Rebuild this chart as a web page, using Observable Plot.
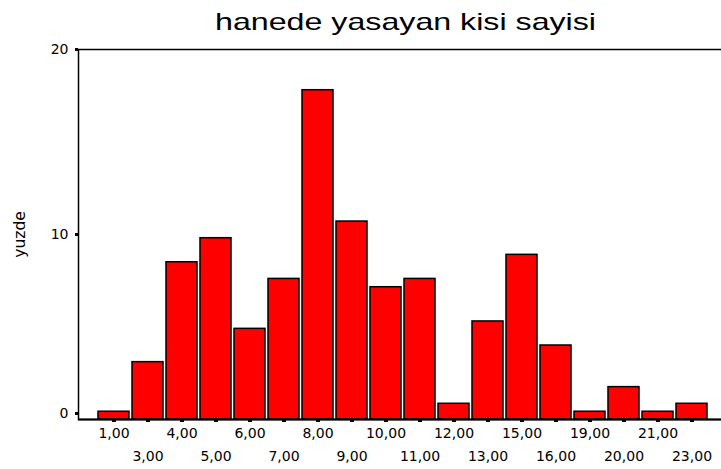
<!DOCTYPE html>
<html><head><meta charset="utf-8">
<script src="https://cdn.jsdelivr.net/npm/d3@7"></script>
<script src="https://cdn.jsdelivr.net/npm/@observablehq/plot@0.6"></script>
<style>body{margin:0;background:#fff} svg{display:block}</style>
</head><body><div id="chart"></div>
<script>
const title = "hanede yasayan kisi sayisi";
const yLabel = "yuzde";
const categories = ["1,00","3,00","4,00","5,00","6,00","7,00","8,00","9,00","10,00","11,00","12,00","13,00","15,00","16,00","19,00","20,00","21,00","23,00"];
const percents = [0.42, 3.1, 8.5, 9.8, 4.9, 7.6, 17.8, 10.7, 7.15, 7.6, 0.85, 5.3, 8.9, 4.0, 0.42, 1.75, 0.42, 0.85];
const yTicks = [0, 10, 20];

const data = categories.map((c, i) => ({cat: c, pct: percents[i]}));
const upperLabels = categories.filter((c, i) => i % 2 === 0);
const lowerLabels = categories.filter((c, i) => i % 2 === 1);

const chart = Plot.plot({
  width: 721, height: 469,
  marginLeft: 78, marginRight: -1, marginTop: 49, marginBottom: 50,
  style: {fontFamily: "DejaVu Sans", fontSize: "14px", color: "#000", background: "#fff"},
  x: {domain: categories, paddingInner: 0.09, paddingOuter: 0, insetLeft: 17, insetRight: 12},
  y: {domain: [yTicks[0], yTicks[yTicks.length - 1]]},
  marks: [
    Plot.barY(data, {x: "cat", y: "pct", fill: "#ff0000", stroke: "#000", strokeWidth: 1.5}),
    Plot.frame({stroke: "#000", strokeWidth: 1.5}),
    Plot.ruleY([yTicks[0]], {stroke: "#000", strokeWidth: 2}),
    Plot.axisX({ticks: categories, tickSize: 3, strokeWidth: 4, tickFormat: () => "", label: null}),
    Plot.axisX({ticks: upperLabels, tickSize: 0, tickPadding: 9, fontSize: 14, label: null}),
    Plot.axisX({ticks: lowerLabels, tickSize: 0, tickPadding: 32, fontSize: 14, label: null}),
    Plot.axisY({ticks: yTicks.slice(1), tickSize: 3, strokeWidth: 3, tickPadding: 7, fontSize: 14, label: null}),
    Plot.axisY({ticks: yTicks.slice(0, 1), tickSize: 3, strokeWidth: 3, tickPadding: 7, fontSize: 14, dy: -6, label: null}),
    Plot.text([yLabel], {frameAnchor: "left", textAnchor: "middle", dx: -58, rotate: -90, fontSize: 15.5, fontFamily: "DejaVu Sans"}),
    Plot.text([title], {frameAnchor: "top", dy: -37, dx: 5, fontSize: 24, fontFamily: "Liberation Sans", className: "charttitle"})
  ]
});
document.getElementById("chart").append(chart);
d3.select(chart).selectAll(".charttitle text").attr("textLength", 381).attr("lengthAdjust", "spacingAndGlyphs");
</script>
</body></html>
